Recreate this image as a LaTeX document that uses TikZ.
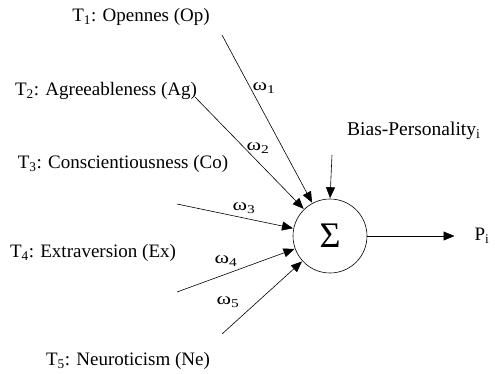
\documentclass[tikz,border=0pt]{standalone}
\usepackage{fontspec}
\setmainfont{Liberation Serif}
\usetikzlibrary{arrows.meta}
\tikzset{
  lbl/.style={font=\fontsize{19}{21}\selectfont, inner sep=0pt},
  blbl/.style={font=\fontsize{19.5}{21}\selectfont, inner sep=0pt},
  wlbl/.style={font=\fontsize{17}{19}\selectfont, inner sep=0pt, xscale=1.3},
  conn/.style={-{Triangle[length=11pt,width=9pt]}, line width=0.6pt, shorten >=0.5pt},
  sumnode/.style={circle, draw, line width=0.6pt, minimum size=74pt, inner sep=0pt, font=\fontsize{36}{38}\selectfont}
}
\begin{document}
\begin{tikzpicture}[x=1pt,y=-1pt]
\useasboundingbox (0,0) rectangle (495,373);
\node[sumnode] (sum) at (330,236) {Σ};
\node[lbl] (t1) at (141,17) {T\textsubscript{1}: Opennes (Op)};
\node[lbl] (t2) at (106,91) {T\textsubscript{2}: Agreeableness (Ag)};
\node[lbl] (t3) at (123,164) {T\textsubscript{3}: Conscientiousness (Co)};
\node[lbl] (t4) at (93,253) {T\textsubscript{4}: Extraversion (Ex)};
\node[lbl] (t5) at (128,361) {T\textsubscript{5}: Neuroticism (Ne)};
\node[blbl, anchor=west] (bias) at (347,131) {Bias-Personality\textsubscript{i}};
\node[lbl] (p) at (482,236) {P\textsubscript{i}};
\coordinate (s1) at (222,35);
\coordinate (s2) at (195,97);
\coordinate (s3) at (177,204);
\coordinate (s4) at (177,292);
\coordinate (s5) at (222,334);
\coordinate (b0) at (332,155);
\coordinate (o1) at (455,236);
\draw[conn] (s1) -- (sum);
\draw[conn] (s2) -- (sum);
\draw[conn] (s3) -- (sum);
\draw[conn] (s4) -- (sum);
\draw[conn] (s5) -- (sum);
\draw[conn] (b0) -- (sum.north);
\draw[conn] (sum.east) -- (o1);
\node[wlbl] (w1) at (264,88) {ω\textsubscript{1}};
\node[wlbl] (w2) at (258,148) {ω\textsubscript{2}};
\node[wlbl] (w3) at (244,208) {ω\textsubscript{3}};
\node[wlbl] (w4) at (226,261) {ω\textsubscript{4}};
\node[wlbl] (w5) at (228,302) {ω\textsubscript{5}};
\end{tikzpicture}
\end{document}
